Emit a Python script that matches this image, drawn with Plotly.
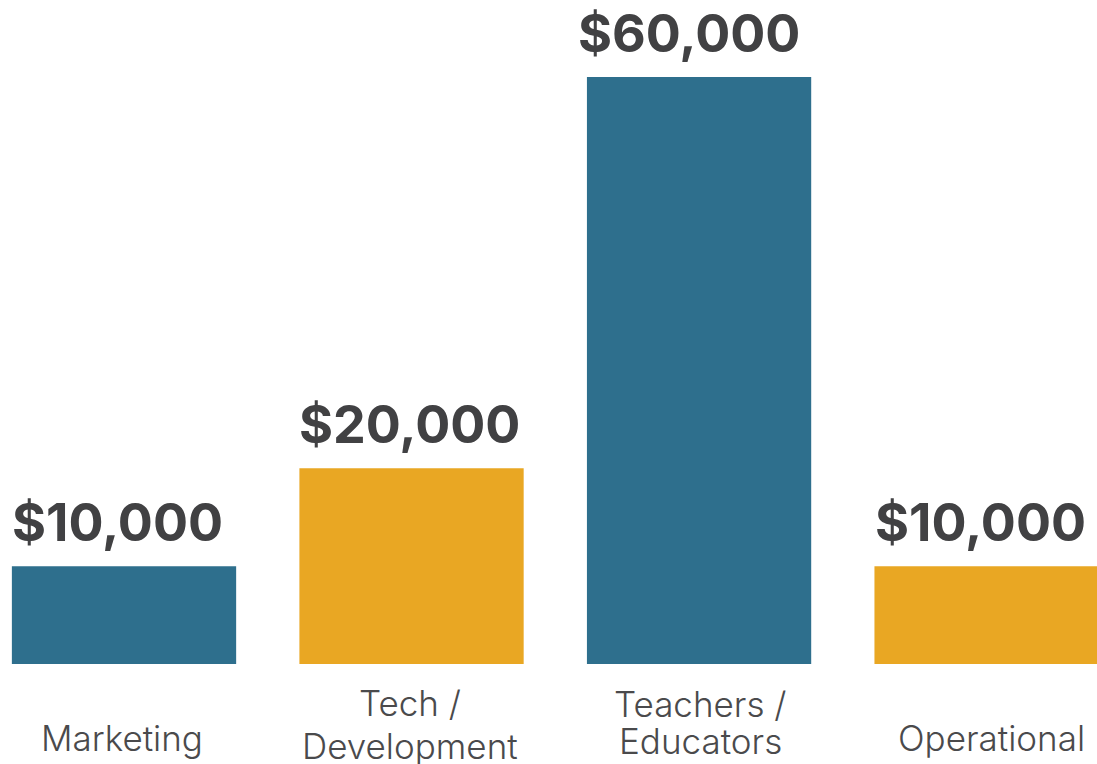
import plotly.graph_objects as go

# Budget allocation by area
categories = ["Marketing", "Tech / Development", "Teachers / Educators", "Operational"]
label_lines = [["Marketing"], ["Tech /", "Development"], ["Teachers /", "Educators"], ["Operational"]]
amounts = [10000, 20000, 60000, 10000]
bar_colors = ["#2E6F8D", "#E9A723", "#2E6F8D", "#E9A723"]

TEXT_DARK = "#414143"
TEXT_GRAY = "#4a4a4c"

# small horizontal nudges for the text (pixels)
value_xshift = [-7, -2, -10, -6]
label_xshift = [-2, -2, 1, 5]
# baseline drops below the axis for each label line (pixels)
label_shifts = [[-97], [-62, -105], [-63, -100], [-97]]

fig = go.Figure(
    go.Bar(
        x=categories,
        y=amounts,
        marker=dict(color=bar_colors, line=dict(width=0)),
        width=0.78,
        hoverinfo="skip",
    )
)

# Dollar value above each bar
for cat, val, dx in zip(categories, amounts, value_xshift):
    fig.add_annotation(
        x=cat, y=val, xref="x", yref="y",
        text=f"${val:,.0f}",
        showarrow=False,
        yanchor="bottom",
        yshift=10,
        xshift=dx,
        font=dict(family="Inter", size=52, color=TEXT_DARK, weight=700),
    )

# Category names below the baseline, one annotation per line
for cat, lines, shifts, dx in zip(categories, label_lines, label_shifts, label_xshift):
    for line, dy in zip(lines, shifts):
        fig.add_annotation(
            x=cat, y=0, xref="x", yref="paper",
            text=line,
            showarrow=False,
            yanchor="bottom",
            yshift=dy,
            xshift=dx,
            font=dict(family="Inter", size=35, color=TEXT_GRAY, weight=300),
        )

fig.update_layout(
    width=1097,
    height=764,
    margin=dict(l=0, r=0, t=0, b=100),
    paper_bgcolor="white",
    plot_bgcolor="white",
    showlegend=False,
    xaxis=dict(
        type="category",
        range=[-0.4313, 3.384],
        showticklabels=False,
        showgrid=False,
        zeroline=False,
        showline=False,
        ticks="",
    ),
    yaxis=dict(
        range=[0, 67870],
        showticklabels=False,
        showgrid=False,
        zeroline=False,
        showline=False,
        ticks="",
    ),
)

fig.write_html("out.html")
